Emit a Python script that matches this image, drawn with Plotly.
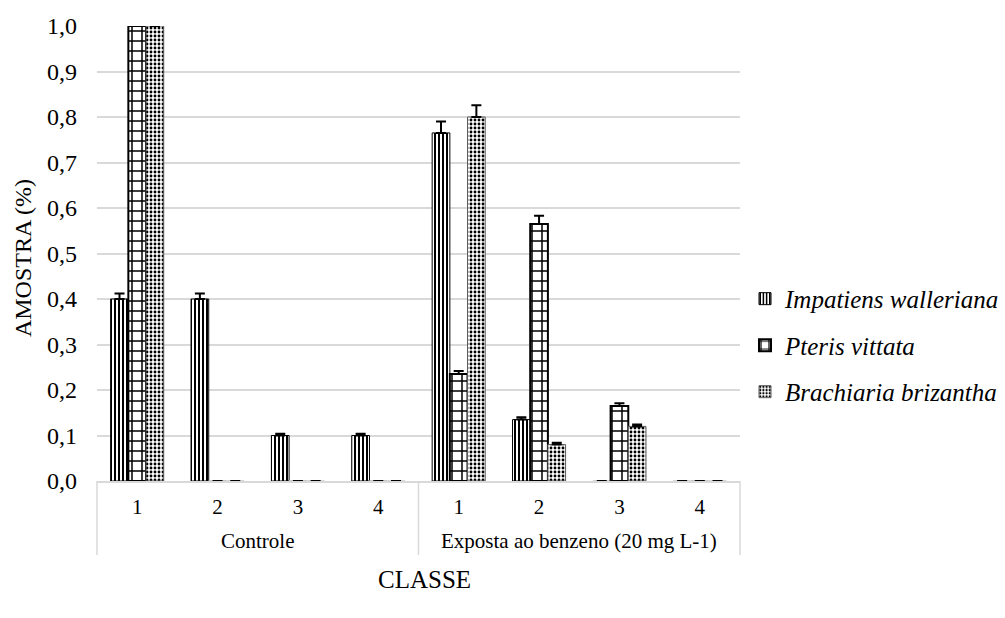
import plotly.graph_objects as go

groups = ["Controle"] * 4 + ["Exposta ao benzeno (20 mg L-1)"] * 4
classes = ["1", "2", "3", "4", "1", "2", "3", "4"]
group_names = ["Controle", "Exposta ao benzeno (20 mg L-1)"]

series_names = ["Impatiens walleriana", "Pteris vittata", "Brachiaria brizantha"]
impatiens = [0.40, 0.40, 0.10, 0.10, 0.765, 0.135, 0.0, 0.0]
pteris = [1.00, 0.0, 0.0, 0.0, 0.235, 0.565, 0.165, 0.0]
brachiaria = [1.00, 0.0, 0.0, 0.0, 0.80, 0.08, 0.12, 0.0]
impatiens_err = [0.012, 0.012, 0.004, 0.004, 0.025, 0.005, 0.0, 0.0]
pteris_err = [0.002, 0.0, 0.0, 0.0, 0.007, 0.018, 0.006, 0.0]
brachiaria_err = [0.002, 0.0, 0.0, 0.0, 0.026, 0.004, 0.004, 0.0]

y_ticks = [0.0, 0.1, 0.2, 0.3, 0.4, 0.5, 0.6, 0.7, 0.8, 0.9, 1.0]
y_tick_labels = ["0,0", "0,1", "0,2", "0,3", "0,4", "0,5", "0,6", "0,7", "0,8", "0,9", "1,0"]

FONT = "Liberation Serif"
GRID = "#d9d9d9"

W, H = 1005, 618
ML, MR, MT, MB = 97, 265, 26, 137
PW, PH = W - ML - MR, H - MT - MB

# unique category keys (group + class); shown text is the class only
x_keys = [g + " | " + c for g, c in zip(groups, classes)]

styles = [
    dict(pattern=dict(shape="|", size=4, solidity=0.5, fgcolor="black", bgcolor="white", fillmode="replace"),
         color="black", width=1),
    dict(pattern=dict(shape="+", size=10, solidity=0.28, fgcolor="black", bgcolor="white", fillmode="replace"),
         color="black", width=2),
    dict(pattern=dict(shape=".", size=4, solidity=0.4, fgcolor="black", bgcolor="white", fillmode="replace"),
         color="#595959", width=1),
]

fig = go.Figure()
for name, vals, err, st in zip(series_names, [impatiens, pteris, brachiaria],
                               [impatiens_err, pteris_err, brachiaria_err], styles):
    line_colors = [st["color"] if v > 0 else "#c8c8c8" for v in vals]
    fig.add_trace(go.Bar(
        x=x_keys, y=vals, name=name, legendgroup=name,
        marker=dict(color="white", pattern=st["pattern"],
                    line=dict(color=line_colors, width=st["width"])),
        error_y=dict(type="data", symmetric=False, array=err, arrayminus=[0] * len(err),
                     color="black", thickness=2, width=5),
    ))

# group labels under the class labels
annotations = []
for g in group_names:
    idx = [i for i, gg in enumerate(groups) if gg == g]
    annotations.append(dict(
        x=(idx[0] + idx[-1]) / 2, xref="x", y=-60 / PH, yref="paper",
        text=g, showarrow=False, xanchor="center", yanchor="middle",
        font=dict(family=FONT, size=21, color="black")))
annotations.append(dict(
    x=(424 - ML) / PW, xref="paper", y=-98 / PH, yref="paper", text="CLASSE", showarrow=False,
    xanchor="center", yanchor="middle", font=dict(family=FONT, size=25, color="black")))
annotations.append(dict(
    x=(23 - ML) / PW, xref="paper", y=0.49, yref="paper", text="AMOSTRA (%)", showarrow=False,
    textangle=-90, xanchor="center", yanchor="middle", font=dict(family=FONT, size=24, color="black")))

# category box dividers (left, between groups, right)
shapes = []
for xp in [0.0, 0.5, 1.0]:
    shapes.append(dict(type="line", xref="paper", yref="paper", x0=xp, x1=xp, y0=0, y1=-74 / PH,
                       line=dict(color=GRID, width=1.5)))

fig.update_layout(
    width=W, height=H,
    margin=dict(l=ML, r=MR, t=MT, b=MB, autoexpand=False),
    paper_bgcolor="white", plot_bgcolor="white",
    font=dict(family=FONT, size=21, color="#000000"),
    barmode="group", bargap=0.34, bargroupgap=0.0,
    showlegend=True,
    legend=dict(x=(745 - ML) / PW, xanchor="left", y=0.298, yanchor="middle",
                font=dict(family=FONT, size=25, style="italic"),
                tracegroupgap=11, itemwidth=30, bgcolor="rgba(0,0,0,0)"),
    annotations=annotations, shapes=shapes,
)
fig.update_yaxes(
    range=[0, 1.0], tickvals=y_ticks, ticktext=y_tick_labels, automargin=False,
    showgrid=True, gridcolor=GRID, gridwidth=1.5,
    zeroline=False, showline=False, ticks="", ticklabelstandoff=19,
    tickfont=dict(family=FONT, size=24),
)
fig.update_xaxes(
    type="category", automargin=False,
    tickvals=x_keys, ticktext=classes,
    showline=True, linecolor=GRID, linewidth=1.5,
    ticks="", ticklabelstandoff=6, tickfont=dict(family=FONT, size=21),
)

# remove the default 8px page margin so the figure sits at the window origin
fig.write_html("out.html", config={"displayModeBar": False},
               post_script="document.body.style.margin='0px';")
